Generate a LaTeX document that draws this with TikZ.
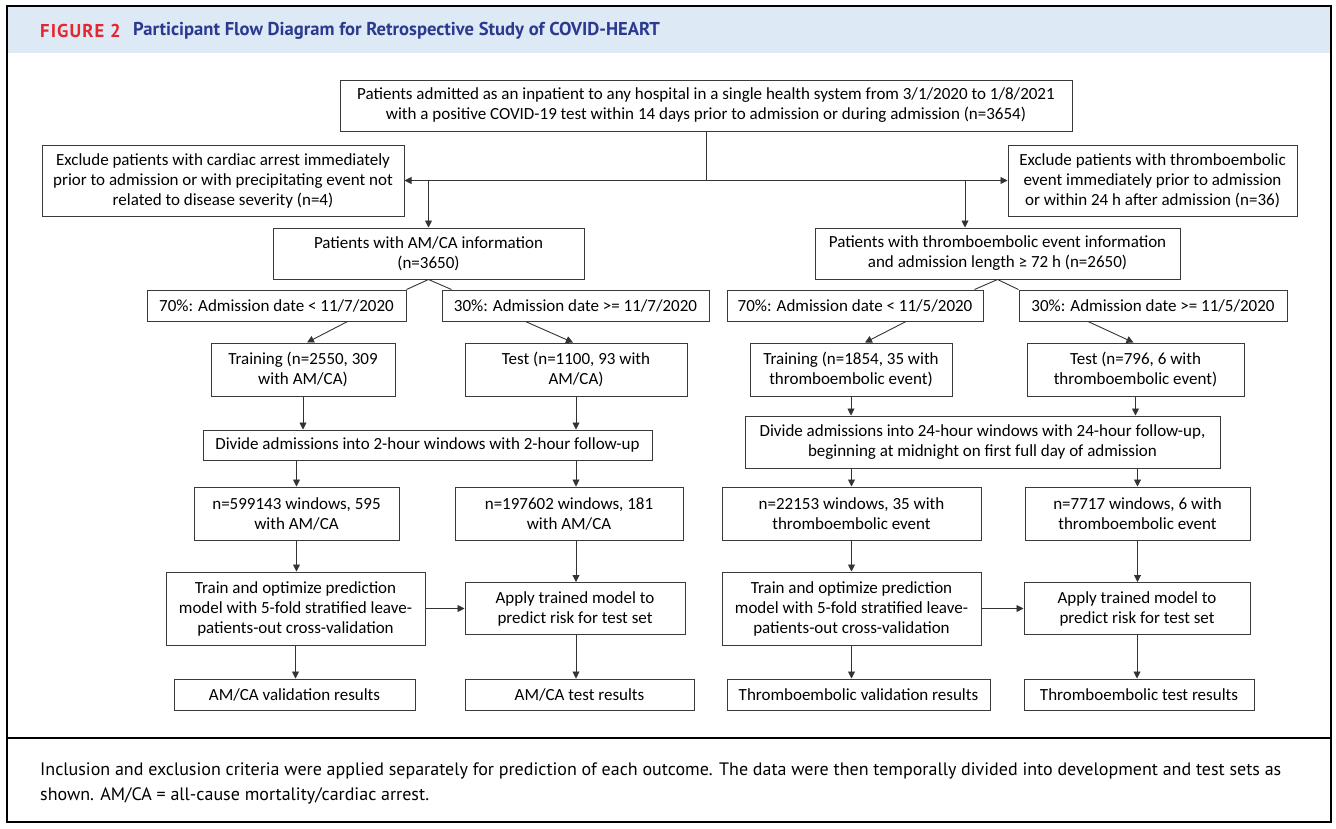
\documentclass[tikz,border=0pt]{standalone}
\usepackage{fontspec}
\setmainfont{Carlito}
\newfontfamily\kepalafont{PT Sans}
\usetikzlibrary{positioning, arrows.meta}

\definecolor{pitabiru}{HTML}{DDE9F5}
\definecolor{merahfig}{HTML}{E4262F}
\definecolor{birujudul}{HTML}{2B3A8F}
\definecolor{garisabu}{HTML}{3A3A3A}

\begin{document}
\begin{tikzpicture}[x=1pt, y=-1pt, font=\fontsize{17pt}{20pt}\selectfont,
      kotak/.style={draw=garisabu, line width=1pt, align=center, inner sep=0pt, fill=white},
      panah/.style={-{Triangle[length=7pt, width=7pt]}, line width=0.9pt, draw=black!80},
      garis/.style={line width=0.9pt, draw=black!80}]
      \useasboundingbox (0,0) rectangle (1336,828);

      % bingkai dan judul
      \fill[pitabiru] (8,7) rectangle (1330,53);
      \draw[line width=2pt] (7,6) rectangle (1331,822);
      \draw[line width=2pt] (7,738) -- (1331,738);
      \node[anchor=west, inner sep=0pt, font=\kepalafont\bfseries\fontsize{18.6pt}{20pt}\selectfont, text=merahfig] (nofig) at (40,31) {\addfontfeatures{LetterSpace=6}FIGURE 2};
      \node[anchor=west, inner sep=0pt, font=\kepalafont\bfseries\fontsize{18.6pt}{20pt}\selectfont, text=birujudul] (judul) at (133,31) {Participant Flow Diagram for Retrospective Study of COVID-HEART};

      % atas: semua pasien
      \node[kotak, minimum width=732pt, minimum height=51pt] (masuk) at (706,105.5)
        {Patients admitted as an inpatient to any hospital in a single health system from 3/1/2020 to 1/8/2021\\ with a positive COVID-19 test within 14 days prior to admission or during admission (n=3654)};
      \node[kotak, minimum width=362pt, minimum height=71pt] (keluarL) at (223,180.5)
        {Exclude patients with cardiac arrest immediately\\ prior to admission or with precipitating event not\\ related to disease severity (n=4)};
      \node[kotak, minimum width=289pt, minimum height=71pt] (keluarR) at (1152.5,180.5)
        {Exclude patients with thromboembolic\\ event immediately prior to admission\\ or within 24 h after admission (n=36)};
      \node[kotak, minimum width=311pt, minimum height=51pt] (amca) at (428.5,253.5)
        {Patients with AM/CA information\\ (n=3650)};
      \node[kotak, minimum width=365pt, minimum height=51pt] (thr) at (997.5,253.5)
        {Patients with thromboembolic event information\\ and admission length ≥ 72 h (n=2650)};

      \draw[panah] (masuk.south) |- (keluarL.east);
      \draw[panah] (masuk.south) |- (keluarR.west);
      \draw[panah] (amca.north |- keluarL.east) -- (amca.north);
      \coordinate (turunR) at (965,180.5);
      \draw[panah] (turunR) -- (turunR |- thr.north);

      % pembagian tanggal
      \node[kotak, minimum width=259pt, minimum height=31pt] (bagiL1) at (276.5,305.5) {70\%: Admission date < 11/7/2020};
      \node[kotak, minimum width=267pt, minimum height=31pt] (bagiL2) at (575.5,305.5) {30\%: Admission date >= 11/7/2020};
      \node[kotak, minimum width=256pt, minimum height=31pt] (bagiR1) at (855,305.5) {70\%: Admission date < 11/5/2020};
      \node[kotak, minimum width=268pt, minimum height=31pt] (bagiR2) at (1153,305.5) {30\%: Admission date >= 11/5/2020};

      \draw[garis] (amca.south) -- (bagiL1.north east);
      \draw[garis] (amca.south) -- ([xshift=10pt]bagiL2.north west);
      \draw[garis] (thr.south) -- ([xshift=-9pt]bagiR1.north east);
      \draw[garis] (thr.south) -- (bagiR2.north west);

      % training / test
      \node[kotak, minimum width=184pt, minimum height=53pt] (latihL) at (303,369.5) {Training (n=2550, 309\\ with AM/CA)};
      \node[kotak, minimum width=222pt, minimum height=53pt] (ujiL) at (576,369.5) {Test (n=1100, 93 with\\ AM/CA)};
      \node[kotak, minimum width=202pt, minimum height=53pt] (latihR) at (851,369.5) {Training (n=1854, 35 with\\ thromboembolic event)};
      \node[kotak, minimum width=217pt, minimum height=53pt] (ujiR) at (1135.5,369.5) {Test (n=796, 6 with\\ thromboembolic event)};

      \draw[panah] ([xshift=71pt]bagiL1.south) -- ([xshift=4pt]latihL.north);
      \draw[panah] ([xshift=-50pt]bagiL2.south) -- ([xshift=-3pt]ujiL.north);
      \draw[panah] ([xshift=51pt]bagiR1.south) -- ([xshift=14pt]latihR.north);
      \draw[panah] ([xshift=-65pt]bagiR2.south) -- ([xshift=-2pt]ujiR.north);

      % jendela waktu
      \node[kotak, minimum width=449pt, minimum height=30pt] (jendelaL) at (427.5,445) {Divide admissions into 2-hour windows with 2-hour follow-up};
      \node[kotak, minimum width=475pt, minimum height=52pt] (jendelaR) at (982.5,442)
        {Divide admissions into 24-hour windows with 24-hour follow-up,\\ beginning at midnight on first full day of admission};

      \draw[panah] (latihL.south) -- (latihL.south |- jendelaL.north);
      \draw[panah] (ujiL.south) -- (ujiL.south |- jendelaL.north);
      \draw[panah] (latihR.south) -- (latihR.south |- jendelaR.north);
      \draw[panah] (ujiR.south) -- (ujiR.south |- jendelaR.north);

      \node[kotak, minimum width=205pt, minimum height=53pt] (nL1) at (296.5,513.5) {n=599143 windows, 595\\ with AM/CA};
      \node[kotak, minimum width=228pt, minimum height=53pt] (nL2) at (569,513.5) {n=197602 windows, 181\\ with AM/CA};
      \node[kotak, minimum width=259pt, minimum height=53pt] (nR1) at (851.5,513.5) {n=22153 windows, 35 with\\ thromboembolic event};
      \node[kotak, minimum width=225pt, minimum height=53pt] (nR2) at (1137.5,513.5) {n=7717 windows, 6 with\\ thromboembolic event};

      \draw[panah] (nL1.north |- jendelaL.south) -- (nL1.north);
      \draw[panah] (ujiL.south |- jendelaL.south) -- (ujiL.south |- nL2.north);
      \draw[panah] (nR1.north |- jendelaR.south) -- (nR1.north);
      \draw[panah] (nR2.north |- jendelaR.south) -- (nR2.north);

      % model
      \node[kotak, minimum width=259pt, minimum height=73pt] (optL) at (295.5,608.5)
        {Train and optimize prediction\\ model with 5-fold stratified leave-\\ patients-out cross-validation};
      \node[kotak, minimum width=220pt, minimum height=52pt] (pakaiL) at (575,608.5) {Apply trained model to\\ predict risk for test set};
      \node[kotak, minimum width=259pt, minimum height=73pt] (optR) at (851.5,608.5)
        {Train and optimize prediction\\ model with 5-fold stratified leave-\\ patients-out cross-validation};
      \node[kotak, minimum width=226pt, minimum height=52pt] (pakaiR) at (1137,608.5) {Apply trained model to\\ predict risk for test set};

      \draw[panah] (nL1.south) -- (nL1.south |- optL.north);
      \draw[panah] (ujiL.south |- nL2.south) -- (ujiL.south |- pakaiL.north);
      \draw[panah] (nR1.south) -- (nR1.south |- optR.north);
      \draw[panah] (nR2.south) -- (nR2.south |- pakaiR.north);
      \draw[panah] (optL) -- (pakaiL);
      \draw[panah] (optR) -- (pakaiR);

      % hasil
      \node[kotak, minimum width=241pt, minimum height=31pt] (hasilL1) at (294.5,694.5) {AM/CA validation results};
      \node[kotak, minimum width=229pt, minimum height=31pt] (hasilL2) at (579.5,694.5) {AM/CA test results};
      \node[kotak, minimum width=263pt, minimum height=31pt] (hasilR1) at (858.5,694.5) {Thromboembolic validation results};
      \node[kotak, minimum width=230pt, minimum height=31pt] (hasilR2) at (1139,694.5) {Thromboembolic test results};

      \draw[panah] (optL.south) -- (optL.south |- hasilL1.north);
      \draw[panah] (ujiL.south |- pakaiL.south) -- (ujiL.south |- hasilL2.north);
      \draw[panah] (optR.south) -- (optR.south |- hasilR1.north);
      \draw[panah] (pakaiR.south) -- (pakaiR.south |- hasilR2.north);

      % keterangan
      \node[anchor=base west, inner sep=0pt, font=\kepalafont\fontsize{18pt}{20pt}\selectfont] (ket1) at (40,775)
        {Inclusion and exclusion criteria were applied separately for prediction of each outcome. The data were then temporally divided into development and test sets as};
      \node[anchor=base west, inner sep=0pt, font=\kepalafont\fontsize{18pt}{20pt}\selectfont] (ket2) at (40,800)
        {shown. AM/CA = all-cause mortality/cardiac arrest.};
    \end{tikzpicture}
\end{document}
